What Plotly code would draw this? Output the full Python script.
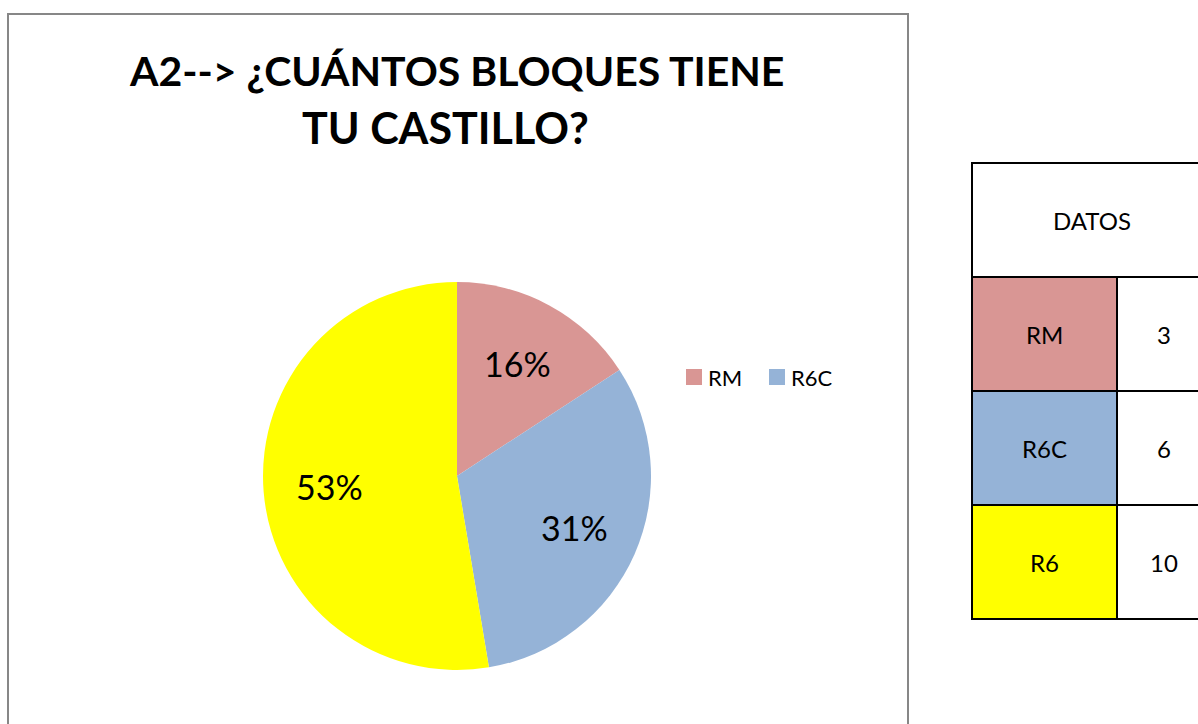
import math
import plotly.graph_objects as go

W, H = 1198, 724

labels = ["RM", "R6C", "R6"]
values = [3, 6, 10]
pct_text = ["16%", "31%", "53%"]
colors = ["#D99694", "#95B3D7", "#FFFF00"]
title_lines = ["A2--> ¿CUÁNTOS BLOQUES TIENE", "TU CASTILLO?"]
table_header = "DATOS"
legend_labels = labels[:2]  # third entry is clipped in the original


def px(x):
    return x / W


def py(y):
    return 1 - y / H


# pie geometry (pixels)
cx, cy, R = 457, 476, 194

fig = go.Figure()
fig.add_trace(go.Pie(
    labels=labels, values=values,
    textinfo="none",
    marker=dict(colors=colors, line=dict(width=0)),
    sort=False, direction="clockwise", rotation=0,
    showlegend=False,
    domain=dict(x=[px(cx - R), px(cx + R)], y=[py(cy + R), py(cy - R)]),
))

shapes = []
annotations = []
# chart border
shapes.append(dict(type="rect", xref="paper", yref="paper",
                   x0=px(8), x1=px(908), y0=py(760), y1=py(14),
                   line=dict(color="#878787", width=2), fillcolor="rgba(0,0,0,0)"))

# title
annotations.append(dict(xref="paper", yref="paper", x=px(457), y=py(70),
                        text="<b>" + title_lines[0] + "</b>", showarrow=False,
                        xanchor="center", yanchor="middle",
                        font=dict(family="Lato", size=41, color="#000000")))
annotations.append(dict(xref="paper", yref="paper", x=px(445), y=py(127),
                        text="<b>" + title_lines[1] + "</b>", showarrow=False,
                        xanchor="center", yanchor="middle",
                        font=dict(family="Lato", size=43, color="#000000")))

# slice percentage labels, placed along each slice's bisector
total = sum(values)
cum = 0
for v, t in zip(values, pct_text):
    mid = (cum + v / 2) / total * 2 * math.pi
    cum += v
    r = 0.66 * R
    lx = cx + r * math.sin(mid)
    ly = cy - r * math.cos(mid)
    annotations.append(dict(xref="paper", yref="paper", x=px(lx), y=py(ly),
                            text=t, showarrow=False, xanchor="center", yanchor="middle",
                            font=dict(family="Lato", size=34, color="#000000")))

# legend (manual)
leg_x = [686, 769]
for i, lab in enumerate(legend_labels):
    shapes.append(dict(type="rect", xref="paper", yref="paper",
                       x0=px(leg_x[i]), x1=px(leg_x[i] + 16), y0=py(385), y1=py(369),
                       fillcolor=colors[i], line=dict(width=0)))
    annotations.append(dict(xref="paper", yref="paper", x=px(leg_x[i] + 20), y=py(377),
                            text=lab, showarrow=False, xanchor="left", yanchor="middle",
                            font=dict(family="Lato", size=22, color="#000000")))

# data table
tx0, tsplit, tx1 = 972, 1117, 1240
row_y = [163, 277, 391, 505, 619]
shapes.append(dict(type="rect", xref="paper", yref="paper",
                   x0=px(tx0), x1=px(tx1), y0=py(row_y[1]), y1=py(row_y[0]),
                   fillcolor="#FFFFFF", line=dict(color="#000000", width=2)))
annotations.append(dict(xref="paper", yref="paper", x=px(1092), y=py(220),
                        text=table_header, showarrow=False, xanchor="center", yanchor="middle",
                        font=dict(family="Lato", size=24, color="#000000")))
for i, lab in enumerate(labels):
    y0, y1 = row_y[i + 1], row_y[i + 2]
    shapes.append(dict(type="rect", xref="paper", yref="paper",
                       x0=px(tx0), x1=px(tsplit), y0=py(y1), y1=py(y0),
                       fillcolor=colors[i], line=dict(color="#000000", width=2)))
    shapes.append(dict(type="rect", xref="paper", yref="paper",
                       x0=px(tsplit), x1=px(tx1), y0=py(y1), y1=py(y0),
                       fillcolor="#FFFFFF", line=dict(color="#000000", width=2)))
    annotations.append(dict(xref="paper", yref="paper", x=px((tx0 + tsplit) / 2), y=py((y0 + y1) / 2),
                            text=lab, showarrow=False, xanchor="center", yanchor="middle",
                            font=dict(family="Lato", size=24, color="#000000")))
    annotations.append(dict(xref="paper", yref="paper", x=px(1164), y=py((y0 + y1) / 2),
                            text=str(values[i]), showarrow=False, xanchor="center", yanchor="middle",
                            font=dict(family="Lato", size=24, color="#000000")))

fig.update_layout(
    width=W, height=H, margin=dict(l=0, r=0, t=0, b=0),
    paper_bgcolor="#FFFFFF", plot_bgcolor="#FFFFFF",
    shapes=shapes, annotations=annotations, showlegend=False,
)

fig.write_html("out.html", config={"displayModeBar": False})
